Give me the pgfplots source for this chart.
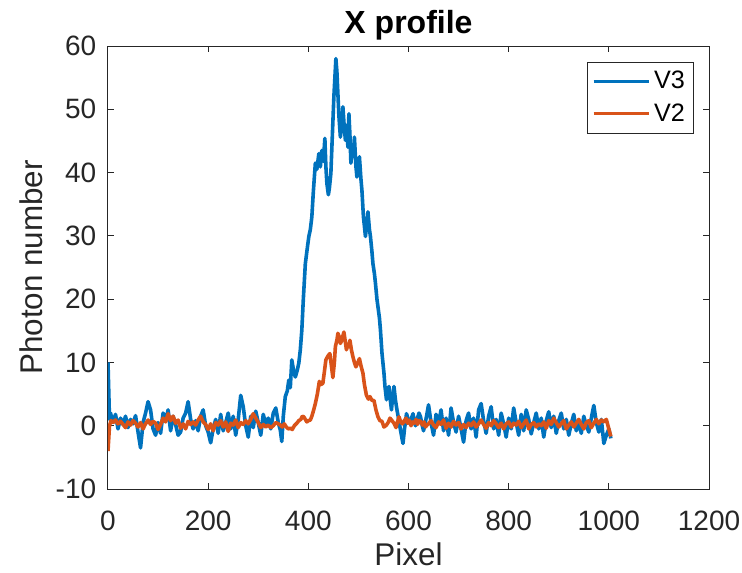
\documentclass[border=0pt]{standalone}
\usepackage{pgfplots}
\pgfplotsset{compat=1.18}
\usepackage{fontspec}
\setmainfont{Liberation Sans}
\definecolor{mblue}{rgb}{0,0.447,0.741}
\definecolor{morange}{rgb}{0.85,0.325,0.098}
\definecolor{axgray}{rgb}{0.15,0.15,0.15}
\pgfplotstableread{
x y
0 10
3 1
5 2
10 0.5
15 1.8
20 -0.5
25 1.2
30 0.2
35 1.5
40 -0.3
45 1.0
50 0.3
55 1.6
60 -1.0
65 -3.5
70 0.5
75 2.0
80 3.8
85 2.5
90 -0.5
95 -1.5
100 0.5
105 -1.2
110 2.0
115 0.8
120 2.5
125 -0.8
130 1.5
135 0.2
140 -1.5
145 -1.0
150 1.2
155 2.0
160 3.8
165 1.0
170 -0.5
175 0.8
180 -0.8
185 1.5
190 2.5
195 0.0
200 -1.0
205 -2.7
210 -0.5
215 1.0
220 -1.2
225 1.8
230 -0.8
235 0.5
240 2.0
245 -0.5
250 1.5
255 -1.5
260 1.0
265 4.8
270 3.0
275 0.0
280 -1.8
285 1.5
290 -0.3
295 2.3
300 0.5
305 -1.5
310 1.8
315 0.2
320 1.2
325 -0.5
330 2.0
335 2.8
340 0.5
344 -0.7
347 -2.5
350 1.5
354 4.6
358 5.5
361 7.2
364 6.0
367 10.4
371 8.5
374 7.7
378 8.8
381 9.9
384 12
387 15.1
390 20
394 25.6
397 27.5
401 29.9
404 31
407 33.0
410 37
414 41.5
417 40.5
421 43
424 40.9
427 43.5
430 41.8
433 45.4
435 41
437 38.3
440 36.5
442 37.5
445 39.9
448 46
451 52
453 55
455 58
457 56
459 52.5
461 49
464 45.6
466 47
469 50.4
471 48
474 45.1
477 47.5
479 44
481 49.3
483 46
485 41.5
488 44
490 42.6
492 45.6
495 41
497 39.3
500 40.5
502 42.5
505 39
507 37.2
510 33
512 31.5
514 29.9
517 32
519 33.8
522 31
524 29.9
527 27.5
529 25.6
532 24
534 22.5
537 20
539 18.8
542 17
544 15.1
547 11.5
551 8.3
553 6.2
556 4.1
558 5.5
561 6.2
563 4.5
566 2.5
568 4.3
571 6.2
574 4.0
577 2.5
580 1.2
584 -0.7
587 -2.0
589 -2.8
592 -0.5
596 1.9
600 0.8
603 0.3
606 1.2
609 1.9
612 0.5
614 0
617 1.0
621 2.0
624 1.4
627 0.2
630 -0.8
633 0.3
636 1.5
640 3.3
645 0.5
650 -1.5
655 1.8
660 0.3
665 2.5
670 -0.8
675 1.2
680 -1.5
685 2.8
690 0.5
695 -1.0
700 1.5
705 -0.5
710 -2.6
715 0.8
720 2.0
725 -0.5
730 1.2
735 -1.8
740 2.5
745 3.5
750 0.8
755 -1.2
760 1.5
765 3.0
770 -0.5
775 1.0
780 -1.5
785 2.0
790 0.3
795 -1.8
800 1.2
805 -0.5
810 2.8
815 0.5
820 -1.5
825 1.8
830 -0.8
835 2.5
840 1.0
845 -1.3
850 0.5
855 2.0
860 -0.5
865 1.2
870 -1.8
875 0.8
880 2.2
885 -0.3
890 1.5
895 -1.2
900 0.8
905 2.0
910 -0.5
915 1.0
920 -1.5
925 0.3
930 1.8
935 -0.8
940 0.5
945 -1.2
950 1.5
955 0.0
960 -1.0
965 1.2
970 3.2
975 0.5
980 -1.0
985 1.0
990 -2.8
995 -1.5
1000 -0.5
1004 -2.0
}\vthree
\pgfplotstableread{
x y
0 -4
3 0
6 0.8
10 0.5
15 0.9
20 0.3
25 0.7
30 0.2
35 -0.3
40 0.6
45 0.1
50 0.8
55 0.4
60 -0.2
65 0.5
70 -0.5
75 0.3
80 0.9
85 0.2
90 0.7
95 0.4
100 -0.6
105 0.2
110 1.2
115 0.6
120 1.9
125 0.8
130 1.5
135 0.4
140 0.9
145 -0.4
150 0.3
155 -0.5
160 0.7
165 0.2
170 0.6
175 0.1
180 0.9
185 1.5
190 0.6
195 0.2
200 -0.6
205 0.3
210 -0.8
215 0.5
220 0.1
225 0.8
230 -0.2
235 0.6
240 -0.9
245 0.4
250 0.1
255 0.9
260 -0.3
265 0.5
270 0.2
275 0.8
280 0.3
285 1.0
290 1.9
295 1.2
300 0.5
305 -0.3
310 0.2
315 -0.2
320 0.1
325 -0.3
330 0.0
335 0.5
340 0.3
344 0.1
348 -0.2
352 0.3
356 -0.2
360 -0.5
364 -0.4
368 -0.6
372 0.0
377 0.4
381 0.8
385 1.0
388 1.5
391 1.4
394 1.0
397 0.6
400 0.8
404 0.9
407 1.5
410 2.3
414 3.5
418 5
422 7
425 6.5
429 6.7
432 8.5
435 10.4
439 11.0
443 11.4
446 9.5
449 7.6
452 10
454 12.5
457 13.5
459 14.6
462 14.0
464 13
467 13.5
469 14.2
471 14.8
474 13.2
476 12
479 12.8
481 12.5
483 13.5
486 12
489 10.9
492 10
495 9.3
499 10
502 10.6
505 9.5
509 8.3
512 6.5
516 4.8
520 4.2
523 4.6
527 4.0
531 4.0
535 2.5
539 1.4
543 0.8
547 0.7
551 -0.2
556 0.1
560 0.6
563 1.2
567 0.8
571 0.4
575 -0.3
578 0.6
581 1.4
585 0.5
588 0.3
591 0.7
595 1.2
598 0.4
601 0.9
605 0.0
608 0.6
611 0.4
615 1.0
618 0.2
621 0.8
624 0.7
628 0.1
631 0.6
634 -0.2
637 0.1
640 0.3
645 0.8
650 0.1
655 -0.3
660 0.6
665 0.2
670 0.9
675 -0.4
680 0.4
685 -0.2
690 0.7
695 0.1
700 0.5
705 -0.5
710 0.2
715 -0.3
720 0.4
725 0.0
730 0.6
735 -0.2
740 0.3
745 0.9
750 0.2
755 -0.4
760 0.5
765 0.0
770 0.8
775 0.3
780 -0.3
785 0.4
790 -0.5
795 0.3
800 0.6
805 -0.2
810 0.4
815 0.1
820 0.7
825 -0.3
830 0.3
835 0.9
840 -0.5
845 0.2
850 0.5
855 -0.2
860 0.3
865 0.0
870 0.6
875 -0.4
880 0.8
885 0.2
890 1.2
895 0.5
900 -0.2
905 0.3
910 0.8
915 -0.5
920 0.1
925 0.6
930 -0.2
935 0.4
940 1.0
945 0.2
950 -0.5
955 0.5
960 0.8
965 -0.3
970 0.4
975 1.0
980 0.3
985 0.9
990 0.6
995 1.0
1000 -0.5
1004 -1.7
}\vtwo
\begin{document}
\begin{tikzpicture}
\begin{axis}[
  scale only axis,
  width=300.5pt, height=221.5pt,
  xmin=0, xmax=1200, ymin=-10, ymax=60,
  xtick={0,200,...,1200}, ytick={-10,0,...,60},
  tick align=inside,
  major tick length=3pt,
  axis line style={axgray, line width=0.5pt},
  every tick/.style={axgray, line width=0.5pt},
  /pgf/number format/assume math mode=true,
  /pgf/number format/1000 sep={},
  tick label style={font=\fontsize{14}{17}\selectfont, text=axgray, inner sep=0pt},
  xticklabel style={anchor=base, yshift=-20.5pt},
  yticklabel style={anchor=east, xshift=-5.7pt},
  xlabel={Pixel}, ylabel={Photon number},
  label style={font=\fontsize{15.7}{19}\selectfont, text=axgray, inner sep=0pt},
  xlabel style={at={(axis description cs:0.5,-0.172)}, anchor=base},
  ylabel style={at={(axis description cs:-0.1098,0.5)}, anchor=base},
  title={X profile},
  title style={at={(axis description cs:0.5,1)}, anchor=base, yshift=0.5pt, inner sep=0pt, font=\bfseries\fontsize{16}{19}\selectfont},
  legend style={at={(axis description cs:1,1)}, anchor=north east, xshift=-7.3pt, yshift=-7.8pt,
    draw=axgray, line width=0.5pt, font=\fontsize{12.6}{15}\selectfont, inner sep=2.5pt, row sep=2pt,
    nodes={inner sep=2pt}},
  legend cell align=left,
  legend image code/.code={\draw[#1, line width=1.5pt] (0pt,0pt) -- (27.5pt,0pt);},
]
\addplot[mblue, line width=1.8pt, line join=round] table[x=x,y=y] {\vthree};
\addlegendentry{V3}
\addplot[morange, line width=1.8pt, line join=round] table[x=x,y=y] {\vtwo};
\addlegendentry{V2}
\end{axis}
\pgfresetboundingbox
\path[use as bounding box] (current axis.south west) ++(-54pt,-41.5pt) rectangle ++(371pt,286pt);
\end{tikzpicture}
\end{document}
